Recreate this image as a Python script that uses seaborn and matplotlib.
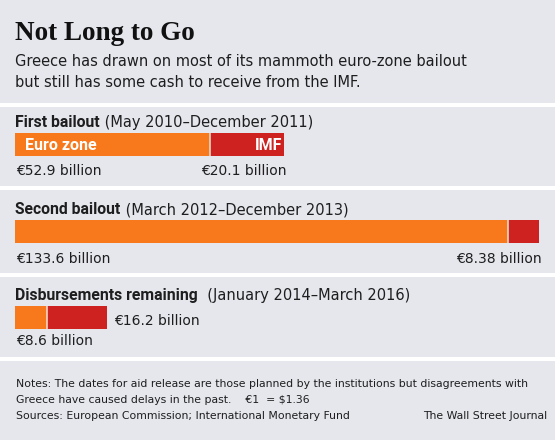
import matplotlib
matplotlib.use('Agg')
import matplotlib.pyplot as plt
import seaborn as sns
import pandas as pd
from matplotlib.patches import Rectangle

# data (billions of euros)
sections = ['First bailout', 'Second bailout', 'Disbursements remaining']
periods = [' (May 2010–December 2011)', ' (March 2012–December 2013)', '  (January 2014–March 2016)']
euro_zone = [52.9, 133.6, 8.6]
imf = [20.1, 8.38, 16.2]
euro_labels = ['€52.9 billion', '€133.6 billion', '€8.6 billion']
imf_labels = ['€20.1 billion', '€8.38 billion', '€16.2 billion']

df = pd.DataFrame({'section': sections, 'euro_zone': euro_zone, 'imf': imf})
df['total'] = df['euro_zone'] + df['imf']

W, H = 555, 440
bg = '#e5e7ed'
orange = '#f7791c'
red = '#cd221f'
ink = '#1e1e1e'

sns.set_style('white')
plt.rcParams['font.family'] = ['DejaVu Sans']
bold_font = ['Roboto', 'DejaVu Sans']

fig = plt.figure(figsize=(W / 100, H / 100), dpi=100, facecolor=bg)
ax = fig.add_axes([0, 0, 1, 1])
ax.set_zorder(2)

# white separators between panels
for y0, y1 in [(103, 107), (186, 190), (273, 277), (357, 361)]:
    fig.add_artist(Rectangle((0, 1 - y1 / H), 1, (y1 - y0) / H, transform=fig.transFigure,
                             facecolor='white', edgecolor='none', zorder=0))

bar_w = 23 / 86.5
sns.barplot(data=df, x='total', y='section', orient='h', color=red, width=bar_w,
            saturation=1, errorbar=None, linewidth=0, edgecolor='none', ax=ax)
sns.barplot(data=df, x='euro_zone', y='section', orient='h', color=orange, width=bar_w,
            saturation=1, errorbar=None, linewidth=0, edgecolor='none', ax=ax)
pos = range(len(df))
ax.vlines(df['euro_zone'], [p - bar_w / 2 for p in pos], [p + bar_w / 2 for p in pos],
          color='#f4e2d6', lw=1.1)

scale = 3.69  # pixels per billion
ax.set_xlim(-15 / scale, (W - 15) / scale)
ax.set_ylim((H - 144.5) / 86.5, -144.5 / 86.5)
ax.axis('off')


def px(x, y):
    return x / W, 1 - y / H


# title block
fig.text(*px(15, 39.5), 'Not Long to Go', family='Liberation Serif', weight='bold',
         size=19.5, color='#111111', va='baseline')
fig.text(*px(15, 66.5), 'Greece has drawn on most of its mammoth euro-zone bailout',
         size=10.5, color=ink, va='baseline')
fig.text(*px(15, 87), 'but still has some cash to receive from the IMF.',
         size=10.5, color=ink, va='baseline')

row = 86.5
head_dy = [-17.5, -17, -17.5]
label_dy = [30.5, 31.5, 27.5]
for i, r in df.iterrows():
    t = ax.text(0.4 / scale, i + head_dy[i] / row, r['section'], family=bold_font,
                weight='bold', size=11.3, color=ink, va='baseline')
    ax.annotate(periods[i], xy=(1, 0), xycoords=t, va='bottom', ha='left',
                size=10.5, color=ink)
    ax.text(0.8 / scale, i + label_dy[i] / row, euro_labels[i], size=10,
            color=ink, va='baseline')
    if i < 2:
        ax.text(r['total'] + 2.5 / scale, i + label_dy[i] / row, imf_labels[i], size=10,
                color=ink, va='baseline', ha='right')
    else:
        ax.text(r['total'] + 7.5 / scale, i + 7.5 / row, imf_labels[i], size=10,
                color=ink, va='baseline')

# legend-style labels inside the first bar
ax.text(10 / scale, 0 + 5.8 / row, 'Euro zone', family=bold_font, weight='bold',
        size=11.5, color='white', va='baseline')
ax.text(df['total'][0] - 2 / scale, 0 + 5.8 / row, 'IMF', family=bold_font, weight='bold',
        size=11.5, color='white', va='baseline', ha='right')

# notes
notes = ['Notes: The dates for aid release are those planned by the institutions but disagreements with',
         'Greece have caused delays in the past.    €1  = $1.36',
         'Sources: European Commission; International Monetary Fund']
for y, line in zip([387, 403, 418.5], notes):
    fig.text(*px(16, y), line, size=7.8, color=ink, va='baseline')
fig.text(*px(547, 418.5), 'The Wall Street Journal', size=7.8, color=ink,
         va='baseline', ha='right')

fig.savefig('out.png', dpi=100, facecolor=bg)
